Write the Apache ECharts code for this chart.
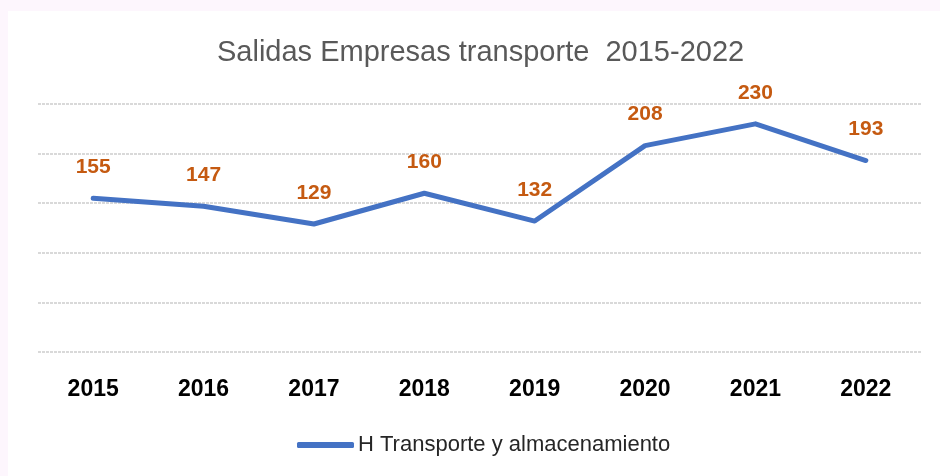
<!DOCTYPE html>
<html>
<head>
<meta charset="utf-8">
<script src="https://cdn.jsdelivr.net/npm/echarts@6/dist/echarts.min.js"></script>
<style>
  html, body { margin: 0; padding: 0; background: #fdf6fd; }
  #chart { position: absolute; left: 8px; top: 11px; width: 932px; height: 465px; background: #fff; }
</style>
</head>
<body>
<div id="chart"></div>
<script>
const years = ['2015', '2016', '2017', '2018', '2019', '2020', '2021', '2022']
const salidas = [155, 147, 129, 160, 132, 208, 230, 193]
const seriesName = 'H Transporte y almacenamiento'

const chart = echarts.init(document.getElementById('chart'))

chart.setOption({
  animation: false,
  title: {
    text: 'Salidas Empresas transporte  2015-2022',
    left: 204,
    top: 22,
    textStyle: {
      fontFamily: 'Liberation Sans',
      fontSize: 29,
      fontWeight: 'normal',
      color: '#595959'
    }
  },
  legend: {
    data: [seriesName],
    top: 418,
    left: 284,
    icon: 'roundRect',
    itemWidth: 57,
    itemHeight: 6,
    textStyle: { fontFamily: 'Liberation Sans', fontSize: 22, color: '#262626', padding: [0, 0, 0, -1] }
  },
  grid: {
    left: 30,
    right: 19,
    top: 93,
    bottom: 124
  },
  xAxis: {
    type: 'category',
    data: years,
    boundaryGap: true,
    axisLine: { show: false },
    axisTick: { show: false },
    axisLabel: {
      margin: 26,
      fontFamily: 'Liberation Sans',
      fontSize: 23,
      fontWeight: 'bold',
      color: '#000'
    }
  },
  yAxis: {
    type: 'value',
    min: 0,
    max: 250,
    interval: 50,
    axisLabel: { show: false },
    axisLine: { show: false },
    axisTick: { show: false },
    splitLine: { lineStyle: { color: '#d9d9d9', width: 2, type: [3, 1] } }
  },
  series: [{
    name: seriesName,
    type: 'line',
    data: salidas,
    symbol: 'circle',
    symbolSize: 1,
    lineStyle: { color: '#4472c4', width: 5, cap: 'round', join: 'round' },
    itemStyle: { color: '#4472c4' },
    label: {
      show: true,
      position: 'top',
      distance: 20,
      fontFamily: 'Liberation Sans',
      fontSize: 21,
      fontWeight: 'bold',
      color: '#c55a11'
    }
  }]
})
</script>
</body>
</html>
